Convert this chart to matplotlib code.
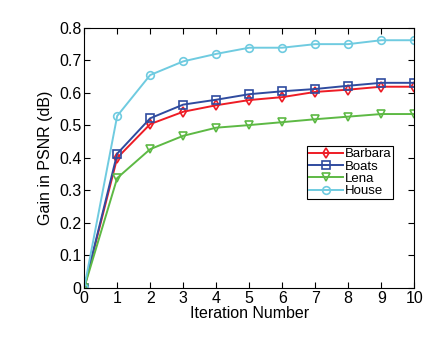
import matplotlib.pyplot as plt
import numpy as np

plt.rcParams['font.family'] = ['Liberation Sans', 'DejaVu Sans']

iterations = np.arange(0, 11)
barbara = [0, 0.400, 0.504, 0.542, 0.562, 0.578, 0.587, 0.603, 0.610, 0.619, 0.619]
boats = [0, 0.413, 0.522, 0.564, 0.579, 0.596, 0.605, 0.612, 0.622, 0.631, 0.631]
lena = [0, 0.338, 0.427, 0.468, 0.493, 0.501, 0.510, 0.519, 0.527, 0.535, 0.535]
house = [0, 0.529, 0.655, 0.697, 0.720, 0.739, 0.739, 0.750, 0.750, 0.762, 0.762]

fig = plt.figure(figsize=(4.43, 3.4), dpi=100)
ax = fig.add_axes([0.19, 0.153, 0.745, 0.765])

style = dict(linewidth=1.4, markersize=5.5, markerfacecolor='none', markeredgewidth=1.2)
ax.plot(iterations, barbara, color='#ee1c25', marker='d', label='Barbara', **style)
ax.plot(iterations, boats, color='#2f4b9f', marker='s', label='Boats', **style)
ax.plot(iterations, lena, color='#5db944', marker='v', label='Lena', **style)
ax.plot(iterations, house, color='#6fcbe0', marker='o', label='House', **style)

ax.set_xlim(0, 10)
ax.set_ylim(0, 0.8)
ax.set_xticks(range(0, 11))
ax.set_yticks(np.arange(0, 0.81, 0.1))
ax.set_yticklabels(['0', '0.1', '0.2', '0.3', '0.4', '0.5', '0.6', '0.7', '0.8'])
ax.tick_params(direction='in', top=True, right=True, labelsize=11.5, length=4, pad=2)
for s in ax.spines.values():
    s.set_linewidth(0.8)

ax.set_xlabel('Iteration Number', fontsize=11.5, labelpad=0)
ax.set_ylabel('Gain in PSNR (dB)', fontsize=11.5, labelpad=4)

leg = ax.legend(loc='upper left', bbox_to_anchor=(0.675, 0.545), fontsize=9.5,
                frameon=True, fancybox=False, edgecolor='black', framealpha=1,
                borderpad=0.15, labelspacing=0.0, handlelength=2.6,
                handletextpad=0.1, borderaxespad=0)
leg.get_frame().set_linewidth(0.8)

plt.savefig('out.png', dpi=100)
